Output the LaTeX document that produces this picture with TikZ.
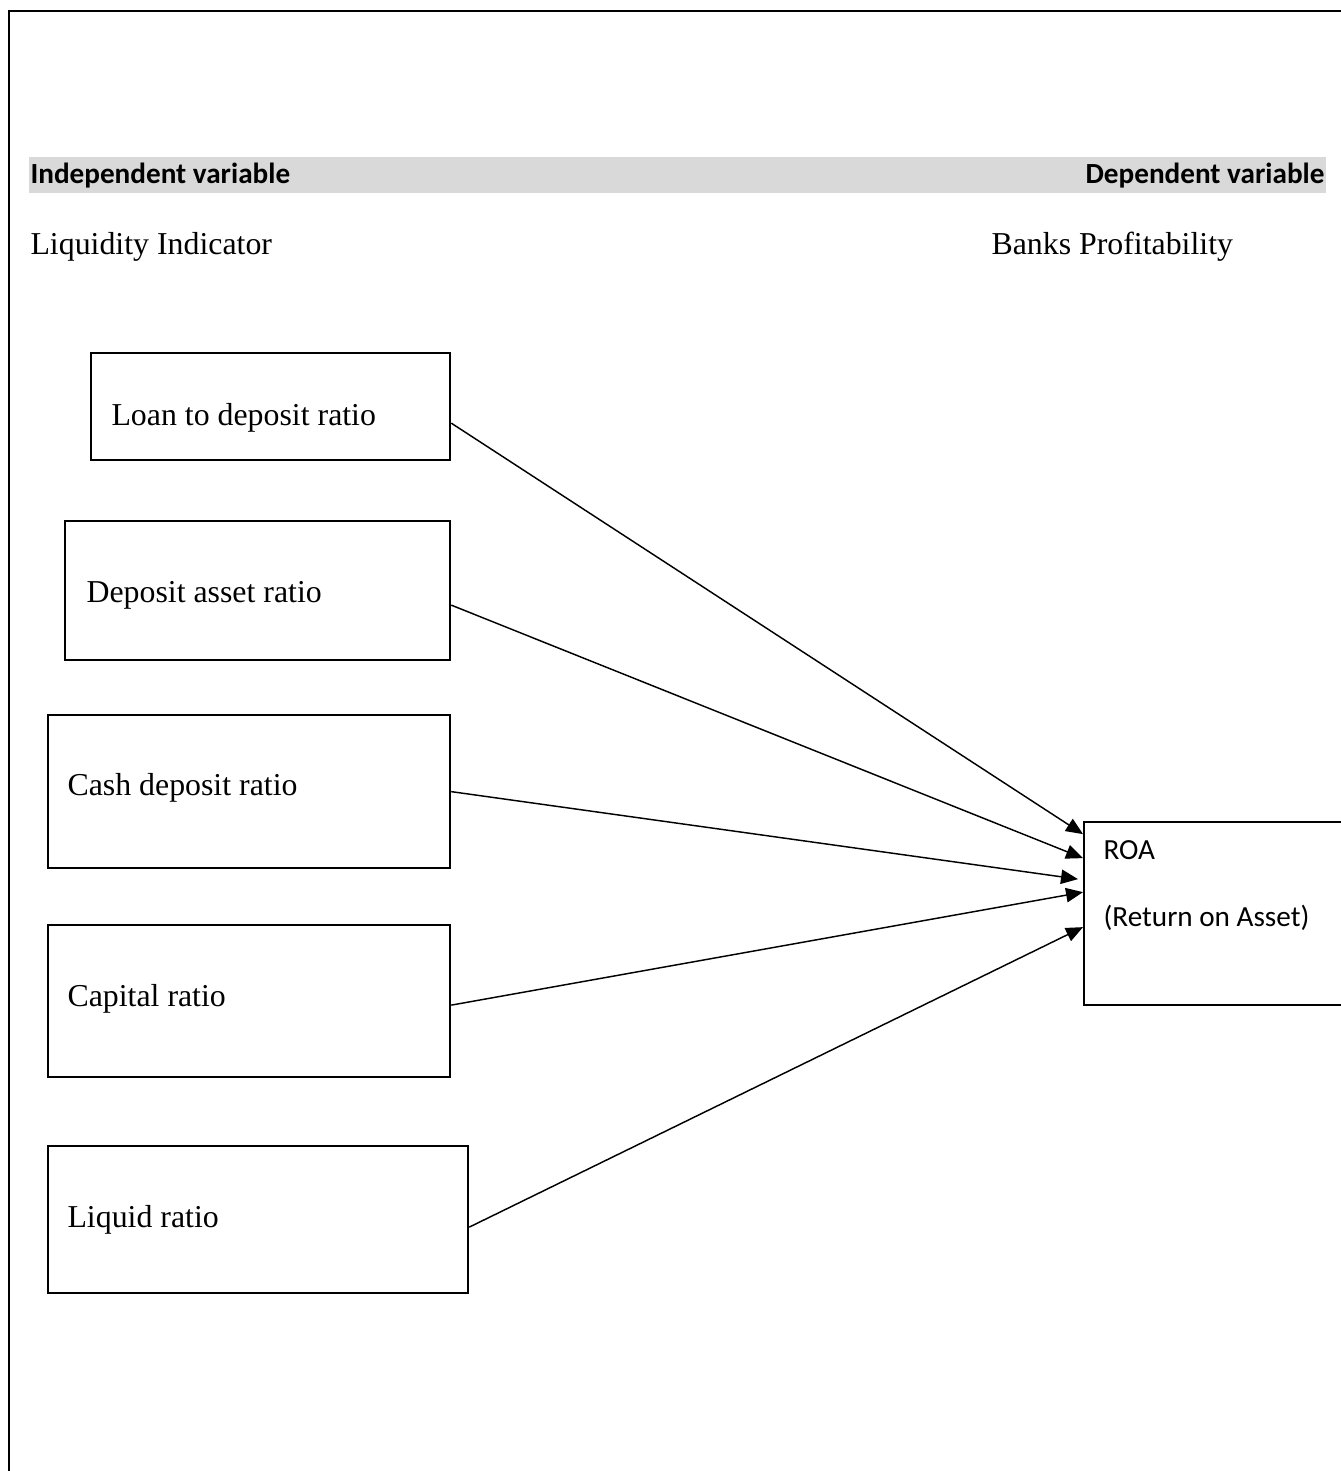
\documentclass[tikz,border=0pt]{standalone}
\usepackage{fontspec}
\setmainfont{Liberation Serif}
\newfontfamily\calibrifont{Carlito}
\usepackage{xcolor}
\usepackage{tikz}
\usetikzlibrary{arrows.meta}
\definecolor{bandgray}{HTML}{D9D9D9}

\begin{document}
\begin{tikzpicture}[x=0.3768pt, y=-0.3768pt,
    ratiobox/.style={draw, line width=0.85pt, anchor=north west, inner sep=0pt},
    lbl/.style={anchor=base west, inner sep=0pt, font=\fontsize{12}{14}\selectfont},
    hdr/.style={inner sep=0pt, font=\calibrifont\bfseries\fontsize{11}{13}\selectfont},
    roatxt/.style={anchor=base west, inner sep=0pt, font=\calibrifont\fontsize{11}{13}\selectfont},
    conn/.style={line width=0.55pt, -{Triangle[length=6.4pt, width=5.4pt]}}]
  \def\u{0.3768pt} % one pixel of the page
  \useasboundingbox (0,0) rectangle (1340,1471);

  % Page frame (left and top only)
  \draw[line width=0.9pt] (9,1480) -- (9,11) -- (1350,11);

  % Header band
  \fill[bandgray] (29,157) rectangle (1326,193);
  \node[hdr, anchor=base west] (indep) at (30,184) {Independent variable};
  \node[hdr, anchor=base east] (dep) at (1325,184) {Dependent variable};

  % Group titles
  \node[lbl] (liqind) at (30,255) {Liquidity Indicator};
  \node[lbl] (profit) at (991,255) {Banks Profitability};

  % Ratio boxes
  \node[ratiobox, minimum width=359*\u, minimum height=107*\u] (loan) at (90,352) {};
  \node[ratiobox, minimum width=385*\u, minimum height=139*\u] (depasset) at (64,520) {};
  \node[ratiobox, minimum width=402*\u, minimum height=153*\u] (cash) at (47,714) {};
  \node[ratiobox, minimum width=402*\u, minimum height=152*\u] (capital) at (47,924) {};
  \node[ratiobox, minimum width=420*\u, minimum height=147*\u] (liquid) at (47,1145) {};

  % Texts in the boxes
  \node[lbl] (loantxt) at (111,426) {Loan to deposit ratio};
  \node[lbl] (depassettxt) at (86,602) {Deposit asset ratio};
  \node[lbl] (cashtxt) at (67,795) {Cash deposit ratio};
  \node[lbl] (capitaltxt) at (67,1006) {Capital ratio};
  \node[lbl] (liquidtxt) at (67,1227) {Liquid ratio};

  % Dependent variable box (runs off the page on the right)
  \node[ratiobox, minimum width=280*\u, minimum height=183*\u] (roa) at (1083,821) {};
  \node[roatxt] (roaname) at (1103,859) {ROA};
  \node[roatxt] (roafull) at (1103,926) {(Return on Asset)};

  % Arrows into ROA
  \foreach \src/\sy/\dx/\dy in {loan/-16.5/0/79.5, depasset/-14.5/0/55.5,
      cash/0/-5/34.5, capital/-4/0/21.5, liquid/-7.5/0/-13.5} {
    \draw[conn] ([yshift=\sy*\u]\src.east) -- ([xshift=\dx*\u, yshift=\dy*\u]roa.west);
  }

\end{tikzpicture}
\end{document}
